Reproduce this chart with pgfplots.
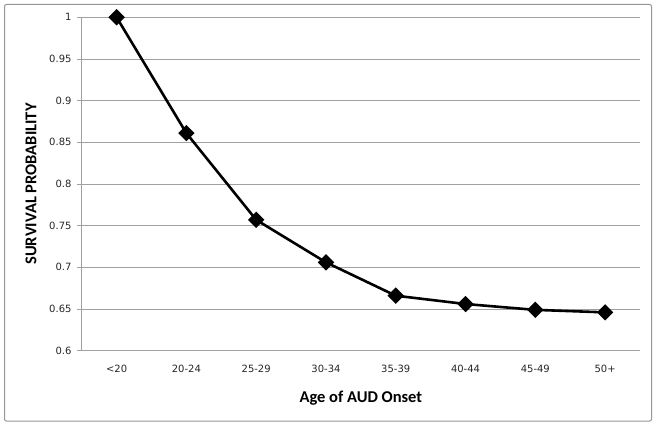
\documentclass[border=0pt]{standalone}
\usepackage{pgfplots}
\pgfplotsset{compat=1.18}
\usepackage{fontspec}
\setmainfont{DejaVu Sans}
\newfontfamily\calibri{Carlito}
\definecolor{gridgray}{RGB}{160,160,160}
\definecolor{framegray}{RGB}{150,150,150}
\begin{document}
\begin{tikzpicture}[x=1bp,y=1bp]
\useasboundingbox (0,0) rectangle (659,427);
\draw[framegray, line width=1bp, rounded corners=2bp] (4.5,6) rectangle (651.5,422.5);
\begin{axis}[
  at={(81.7bp,76.3bp)}, anchor=south west,
  scale only axis, width=558.3bp, height=333.4bp,
  xmin=-0.5, xmax=7.5, ymin=0.6, ymax=1,
  /pgf/number format/assume math mode=true,
  axis x line*=bottom, axis y line*=left,
  axis line style={gridgray, line width=0.9bp, -},
  xtick={0,1,2,3,4,5,6,7},
  xticklabels={<20,20-24,25-29,30-34,35-39,40-44,45-49,50+},
  xtick style={draw=none},
  ytick={0.6,0.65,0.7,0.75,0.8,0.85,0.9,0.95,1},
  yticklabels={0.6,0.65,0.7,0.75,0.8,0.85,0.9,0.95,1},
  ytick style={draw=gridgray, line width=0.9bp},
  tick align=outside, major tick length=4.7bp,
  ymajorgrids, grid style={gridgray, line width=0.9bp},
  ticklabel style={font=\fontsize{10bp}{12bp}\selectfont, text=black!85},
  xticklabel style={yshift=-6bp},
  yticklabel style={xshift=-2bp},
  xlabel={Age of AUD Onset},
  ylabel={SURVIVAL PROBABILITY},
  label style={font=\calibri\bfseries\fontsize{16.5bp}{18bp}\selectfont},
  xlabel style={at={([yshift=-52bp]axis description cs:0.5,0)}, anchor=base},
  ylabel style={at={([xshift=-50.7bp]axis description cs:0,0.5)}, anchor=center, rotate=0},
  clip=false,
]
\addplot[black, line width=2.6bp, mark=square*, mark size=4.5bp, mark options={rotate=45, solid, fill=black}] coordinates {
(0,1.000) (1,0.861) (2,0.757) (3,0.706) (4,0.666) (5,0.656) (6,0.649) (7,0.646)
};
\end{axis}
\end{tikzpicture}
\end{document}
